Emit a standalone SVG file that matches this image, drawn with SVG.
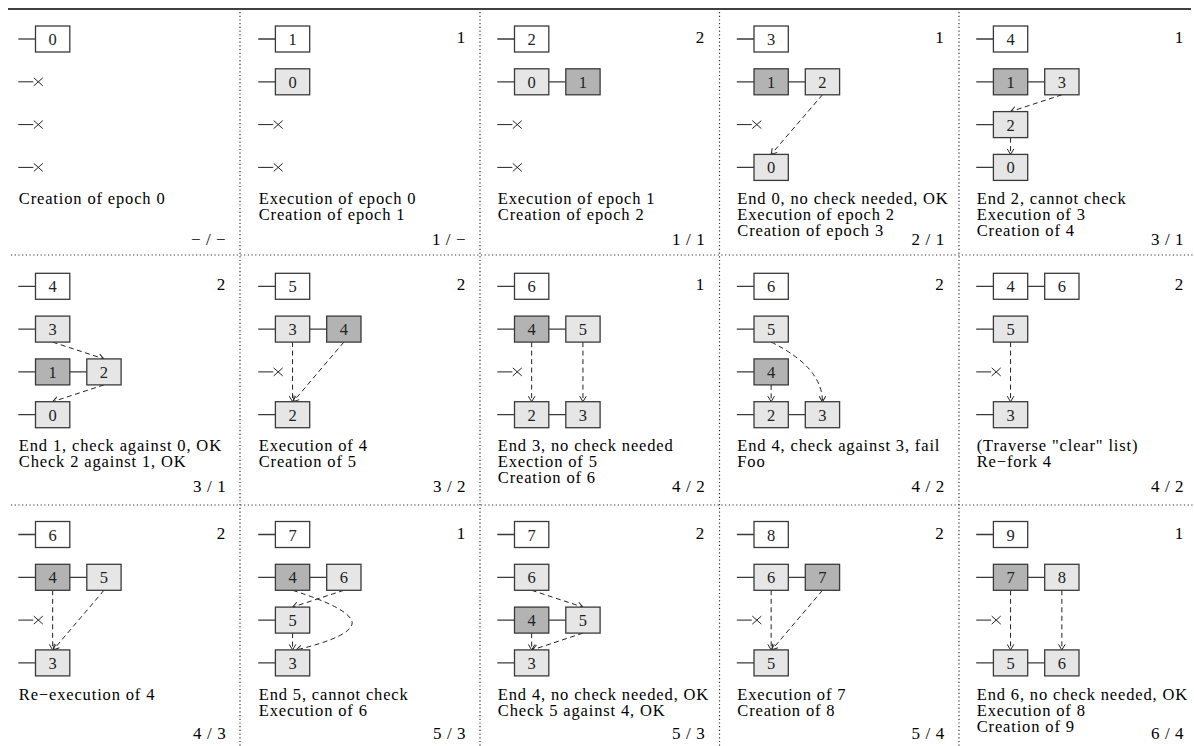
<svg xmlns="http://www.w3.org/2000/svg" width="1194" height="746" viewBox="0 0 1194 746">
<style>
.ln{stroke:#3a3a3a;stroke-width:1.3;fill:none}
.bx{stroke:#3a3a3a;stroke-width:1.3}
.w{fill:#ffffff}.l{fill:#e6e6e6}.d{fill:#b3b3b3}
.bt{font-family:"Liberation Serif","Times New Roman",serif;font-size:16.5px;text-anchor:middle;fill:#222}
.tx{font-family:"Liberation Serif","Times New Roman",serif;font-size:16.5px;letter-spacing:0.85px;fill:#000}
.num{font-family:"Liberation Serif","Times New Roman",serif;font-size:17px;text-anchor:end;fill:#000}
.cnt{font-family:"Liberation Serif","Times New Roman",serif;font-size:17px;letter-spacing:0.6px;text-anchor:end;fill:#000}
.da{stroke:#222;stroke-width:1;stroke-dasharray:5 3.5;fill:none;marker-end:url(#ah)}
.x{stroke:#222;stroke-width:1;fill:none}
.sep{stroke:#333;stroke-width:1.2;stroke-dasharray:1.2 2.5;fill:none}
</style>
<defs>
<marker id="ah" viewBox="-7 -5 8 10" refX="0" refY="0" markerWidth="8" markerHeight="10" markerUnits="userSpaceOnUse" orient="auto"><path d="M-5.5,-3.3 L0,0 L-5.5,3.3" fill="none" stroke="#222" stroke-width="1"/></marker>
</defs>
<rect width="1194" height="746" fill="#fff"/>
<g id="frame">
<line x1="8" y1="9" x2="1191" y2="9" stroke="#000" stroke-width="1.7"/>
<line class="sep" x1="240" y1="12" x2="240" y2="746"/>
<line class="sep" x1="480" y1="12" x2="480" y2="746"/>
<line class="sep" x1="719.5" y1="12" x2="719.5" y2="746"/>
<line class="sep" x1="959" y1="12" x2="959" y2="746"/>
<line class="sep" x1="11" y1="255" x2="1194" y2="255"/>
<line class="sep" x1="11" y1="505" x2="1194" y2="505"/>
</g>

<!-- Panel 0,0 -->
<g id="panel-00" transform="translate(18.3,39)">
<g id="p00-connectors">
<path class="ln" d="M0,0H17.2"/>
<path class="x" d="M0,42.8H15M15.5,38.8L24.5,46.8M15.5,46.8L24.5,38.8"/>
<path class="x" d="M0,85.6H15M15.5,81.6L24.5,89.6M15.5,89.6L24.5,81.6"/>
<path class="x" d="M0,128.4H15M15.5,124.4L24.5,132.4M15.5,132.4L24.5,124.4"/>
</g>
<g id="p00-e0"><rect class="bx w" x="17.2" y="-13" width="34.3" height="26"/><text class="bt" x="34.35" y="6">0</text></g>
<text class="tx" x="0.5" y="165">Creation of epoch 0</text>
<text class="cnt" x="208" y="206">− / −</text>
</g>

<!-- Panel 0,1 -->
<g id="panel-01" transform="translate(258.2,39)">
<g id="p01-connectors">
<path class="ln" d="M0,0H17.2M0,42.8H17.2"/>
<path class="x" d="M0,85.6H15M15.5,81.6L24.5,89.6M15.5,89.6L24.5,81.6"/>
<path class="x" d="M0,128.4H15M15.5,124.4L24.5,132.4M15.5,132.4L24.5,124.4"/>
</g>
<g id="p01-e1"><rect class="bx w" x="17.2" y="-13" width="34.3" height="26"/><text class="bt" x="34.35" y="6">1</text></g>
<g id="p01-e0"><rect class="bx l" x="17.2" y="29.8" width="34.3" height="26"/><text class="bt" x="34.35" y="48.8">0</text></g>
<text class="num" x="207" y="4">1</text>
<text class="tx" x="0.5" y="165">Execution of epoch 0</text>
<text class="tx" x="0.5" y="181">Creation of epoch 1</text>
<text class="cnt" x="208" y="206">1 / −</text>
</g>

<!-- Panel 0,2 -->
<g id="panel-02" transform="translate(497.3,39)">
<g id="p02-connectors">
<path class="ln" d="M0,0H17.2M0,42.8H17.2M51.5,42.8H68.5"/>
<path class="x" d="M0,85.6H15M15.5,81.6L24.5,89.6M15.5,89.6L24.5,81.6"/>
<path class="x" d="M0,128.4H15M15.5,124.4L24.5,132.4M15.5,132.4L24.5,124.4"/>
</g>
<g id="p02-e2"><rect class="bx w" x="17.2" y="-13" width="34.3" height="26"/><text class="bt" x="34.35" y="6">2</text></g>
<g id="p02-e0"><rect class="bx l" x="17.2" y="29.8" width="34.3" height="26"/><text class="bt" x="34.35" y="48.8">0</text></g>
<g id="p02-e1"><rect class="bx d" x="68.5" y="29.8" width="34.3" height="26"/><text class="bt" x="85.65" y="48.8">1</text></g>
<text class="num" x="207" y="4">2</text>
<text class="tx" x="0.5" y="165">Execution of epoch 1</text>
<text class="tx" x="0.5" y="181">Creation of epoch 2</text>
<text class="cnt" x="208" y="206">1 / 1</text>
</g>

<!-- Panel 0,3 -->
<g id="panel-03" transform="translate(736.8,39)">
<g id="p03-connectors">
<path class="ln" d="M0,0H17.2M0,42.8H17.2M51.5,42.8H68.5M0,128.4H17.2"/>
<path class="x" d="M0,85.6H15M15.5,81.6L24.5,89.6M15.5,89.6L24.5,81.6"/>
<path class="da" d="M85.65,55.8L34.35,115.4"/>
</g>
<g id="p03-e3"><rect class="bx w" x="17.2" y="-13" width="34.3" height="26"/><text class="bt" x="34.35" y="6">3</text></g>
<g id="p03-e1"><rect class="bx d" x="17.2" y="29.8" width="34.3" height="26"/><text class="bt" x="34.35" y="48.8">1</text></g>
<g id="p03-e2"><rect class="bx l" x="68.5" y="29.8" width="34.3" height="26"/><text class="bt" x="85.65" y="48.8">2</text></g>
<g id="p03-e0"><rect class="bx l" x="17.2" y="115.4" width="34.3" height="26"/><text class="bt" x="34.35" y="134.4">0</text></g>
<text class="num" x="207" y="4">1</text>
<text class="tx" x="0.5" y="165">End 0, no check needed, OK</text>
<text class="tx" x="0.5" y="181">Execution of epoch 2</text>
<text class="tx" x="0.5" y="197">Creation of epoch 3</text>
<text class="cnt" x="208" y="206">2 / 1</text>
</g>

<!-- Panel 0,4 -->
<g id="panel-04" transform="translate(976.2,39)">
<g id="p04-connectors">
<path class="ln" d="M0,0H17.2M0,42.8H17.2M51.5,42.8H68.5M0,85.6H17.2M0,128.4H17.2"/>
<path class="da" d="M85.65,55.8L34.35,72.6"/>
<path class="da" d="M34.35,98.6L34.35,115.4"/>
</g>
<g id="p04-e4"><rect class="bx w" x="17.2" y="-13" width="34.3" height="26"/><text class="bt" x="34.35" y="6">4</text></g>
<g id="p04-e1"><rect class="bx d" x="17.2" y="29.8" width="34.3" height="26"/><text class="bt" x="34.35" y="48.8">1</text></g>
<g id="p04-e3"><rect class="bx l" x="68.5" y="29.8" width="34.3" height="26"/><text class="bt" x="85.65" y="48.8">3</text></g>
<g id="p04-e2"><rect class="bx l" x="17.2" y="72.6" width="34.3" height="26"/><text class="bt" x="34.35" y="91.6">2</text></g>
<g id="p04-e0"><rect class="bx l" x="17.2" y="115.4" width="34.3" height="26"/><text class="bt" x="34.35" y="134.4">0</text></g>
<text class="num" x="207" y="4">1</text>
<text class="tx" x="0.5" y="165">End 2, cannot check</text>
<text class="tx" x="0.5" y="181">Execution of 3</text>
<text class="tx" x="0.5" y="197">Creation of 4</text>
<text class="cnt" x="208" y="206">3 / 1</text>
</g>

<!-- Panel 1,0 -->
<g id="panel-10" transform="translate(18.3,286.3)">
<g id="p10-connectors">
<path class="ln" d="M0,0H17.2M0,42.8H17.2M0,85.6H17.2M51.5,85.6H68.5M0,128.4H17.2"/>
<path class="da" d="M34.35,55.8L85.65,72.6"/>
<path class="da" d="M85.65,98.6L34.35,115.4"/>
</g>
<g id="p10-e4"><rect class="bx w" x="17.2" y="-13" width="34.3" height="26"/><text class="bt" x="34.35" y="6">4</text></g>
<g id="p10-e3"><rect class="bx l" x="17.2" y="29.8" width="34.3" height="26"/><text class="bt" x="34.35" y="48.8">3</text></g>
<g id="p10-e1"><rect class="bx d" x="17.2" y="72.6" width="34.3" height="26"/><text class="bt" x="34.35" y="91.6">1</text></g>
<g id="p10-e2"><rect class="bx l" x="68.5" y="72.6" width="34.3" height="26"/><text class="bt" x="85.65" y="91.6">2</text></g>
<g id="p10-e0"><rect class="bx l" x="17.2" y="115.4" width="34.3" height="26"/><text class="bt" x="34.35" y="134.4">0</text></g>
<text class="num" x="207" y="4">2</text>
<text class="tx" x="0.5" y="165">End 1, check against 0, OK</text>
<text class="tx" x="0.5" y="181">Check 2 against 1, OK</text>
<text class="cnt" x="208" y="206">3 / 1</text>
</g>

<!-- Panel 1,1 -->
<g id="panel-11" transform="translate(258.2,286.3)">
<g id="p11-connectors">
<path class="ln" d="M0,0H17.2M0,42.8H17.2M51.5,42.8H68.5M0,128.4H17.2"/>
<path class="x" d="M0,85.6H15M15.5,81.6L24.5,89.6M15.5,89.6L24.5,81.6"/>
<path class="da" d="M34.35,55.8L34.35,115.4"/>
<path class="da" d="M85.65,55.8L35,115.4"/>
</g>
<g id="p11-e5"><rect class="bx w" x="17.2" y="-13" width="34.3" height="26"/><text class="bt" x="34.35" y="6">5</text></g>
<g id="p11-e3"><rect class="bx l" x="17.2" y="29.8" width="34.3" height="26"/><text class="bt" x="34.35" y="48.8">3</text></g>
<g id="p11-e4"><rect class="bx d" x="68.5" y="29.8" width="34.3" height="26"/><text class="bt" x="85.65" y="48.8">4</text></g>
<g id="p11-e2"><rect class="bx l" x="17.2" y="115.4" width="34.3" height="26"/><text class="bt" x="34.35" y="134.4">2</text></g>
<text class="num" x="207" y="4">2</text>
<text class="tx" x="0.5" y="165">Execution of 4</text>
<text class="tx" x="0.5" y="181">Creation of 5</text>
<text class="cnt" x="208" y="206">3 / 2</text>
</g>

<!-- Panel 1,2 -->
<g id="panel-12" transform="translate(497.3,286.3)">
<g id="p12-connectors">
<path class="ln" d="M0,0H17.2M0,42.8H17.2M51.5,42.8H68.5M0,128.4H17.2M51.5,128.4H68.5"/>
<path class="x" d="M0,85.6H15M15.5,81.6L24.5,89.6M15.5,89.6L24.5,81.6"/>
<path class="da" d="M34.35,55.8L34.35,115.4"/>
<path class="da" d="M85.65,55.8L85.65,115.4"/>
</g>
<g id="p12-e6"><rect class="bx w" x="17.2" y="-13" width="34.3" height="26"/><text class="bt" x="34.35" y="6">6</text></g>
<g id="p12-e4"><rect class="bx d" x="17.2" y="29.8" width="34.3" height="26"/><text class="bt" x="34.35" y="48.8">4</text></g>
<g id="p12-e5"><rect class="bx l" x="68.5" y="29.8" width="34.3" height="26"/><text class="bt" x="85.65" y="48.8">5</text></g>
<g id="p12-e2"><rect class="bx l" x="17.2" y="115.4" width="34.3" height="26"/><text class="bt" x="34.35" y="134.4">2</text></g>
<g id="p12-e3"><rect class="bx l" x="68.5" y="115.4" width="34.3" height="26"/><text class="bt" x="85.65" y="134.4">3</text></g>
<text class="num" x="207" y="4">1</text>
<text class="tx" x="0.5" y="165">End 3, no check needed</text>
<text class="tx" x="0.5" y="181">Exection of 5</text>
<text class="tx" x="0.5" y="197">Creation of 6</text>
<text class="cnt" x="208" y="206">4 / 2</text>
</g>

<!-- Panel 1,3 -->
<g id="panel-13" transform="translate(736.8,286.3)">
<g id="p13-connectors">
<path class="ln" d="M0,0H17.2M0,42.8H17.2M0,85.6H17.2M0,128.4H17.2M51.5,128.4H68.5"/>
<path class="da" d="M34.35,98.6L34.35,115.4"/>
<path class="da" d="M34.35,55.8Q85.65,81 85.65,115.4"/>
</g>
<g id="p13-e6"><rect class="bx w" x="17.2" y="-13" width="34.3" height="26"/><text class="bt" x="34.35" y="6">6</text></g>
<g id="p13-e5"><rect class="bx l" x="17.2" y="29.8" width="34.3" height="26"/><text class="bt" x="34.35" y="48.8">5</text></g>
<g id="p13-e4"><rect class="bx d" x="17.2" y="72.6" width="34.3" height="26"/><text class="bt" x="34.35" y="91.6">4</text></g>
<g id="p13-e2"><rect class="bx l" x="17.2" y="115.4" width="34.3" height="26"/><text class="bt" x="34.35" y="134.4">2</text></g>
<g id="p13-e3"><rect class="bx l" x="68.5" y="115.4" width="34.3" height="26"/><text class="bt" x="85.65" y="134.4">3</text></g>
<text class="num" x="207" y="4">2</text>
<text class="tx" x="0.5" y="165">End 4, check against 3, fail</text>
<text class="tx" x="0.5" y="181">Foo</text>
<text class="cnt" x="208" y="206">4 / 2</text>
</g>

<!-- Panel 1,4 -->
<g id="panel-14" transform="translate(976.2,286.3)">
<g id="p14-connectors">
<path class="ln" d="M0,0H17.2M51.5,0H68.5M0,42.8H17.2M0,128.4H17.2"/>
<path class="x" d="M0,85.6H15M15.5,81.6L24.5,89.6M15.5,89.6L24.5,81.6"/>
<path class="da" d="M34.35,55.8L34.35,115.4"/>
</g>
<g id="p14-e4"><rect class="bx w" x="17.2" y="-13" width="34.3" height="26"/><text class="bt" x="34.35" y="6">4</text></g>
<g id="p14-e6"><rect class="bx w" x="68.5" y="-13" width="34.3" height="26"/><text class="bt" x="85.65" y="6">6</text></g>
<g id="p14-e5"><rect class="bx l" x="17.2" y="29.8" width="34.3" height="26"/><text class="bt" x="34.35" y="48.8">5</text></g>
<g id="p14-e3"><rect class="bx l" x="17.2" y="115.4" width="34.3" height="26"/><text class="bt" x="34.35" y="134.4">3</text></g>
<text class="num" x="207" y="4">2</text>
<text class="tx" x="0.5" y="165">(Traverse "clear" list)</text>
<text class="tx" x="0.5" y="181">Re−fork 4</text>
<text class="cnt" x="208" y="206">4 / 2</text>
</g>

<!-- Panel 2,0 -->
<g id="panel-20" transform="translate(18.3,534.5)">
<g id="p20-connectors">
<path class="ln" d="M0,0H17.2M0,42.8H17.2M51.5,42.8H68.5M0,128.4H17.2"/>
<path class="x" d="M0,85.6H15M15.5,81.6L24.5,89.6M15.5,89.6L24.5,81.6"/>
<path class="da" d="M34.35,55.8L34.35,115.4"/>
<path class="da" d="M85.65,55.8L35,115.4"/>
</g>
<g id="p20-e6"><rect class="bx w" x="17.2" y="-13" width="34.3" height="26"/><text class="bt" x="34.35" y="6">6</text></g>
<g id="p20-e4"><rect class="bx d" x="17.2" y="29.8" width="34.3" height="26"/><text class="bt" x="34.35" y="48.8">4</text></g>
<g id="p20-e5"><rect class="bx l" x="68.5" y="29.8" width="34.3" height="26"/><text class="bt" x="85.65" y="48.8">5</text></g>
<g id="p20-e3"><rect class="bx l" x="17.2" y="115.4" width="34.3" height="26"/><text class="bt" x="34.35" y="134.4">3</text></g>
<text class="num" x="207" y="4">2</text>
<text class="tx" x="0.5" y="165">Re−execution of 4</text>
<text class="cnt" x="208" y="204">4 / 3</text>
</g>

<!-- Panel 2,1 -->
<g id="panel-21" transform="translate(258.2,534.5)">
<g id="p21-connectors">
<path class="ln" d="M0,0H17.2M0,42.8H17.2M51.5,42.8H68.5M0,85.6H17.2M0,128.4H17.2"/>
<path class="da" d="M85.65,55.8L34.35,72.6"/>
<path class="da" d="M34.35,98.6L34.35,115.4"/>
<path class="da" d="M34.35,55.8Q92,74 94,88Q94,102 38,115.4"/>
</g>
<g id="p21-e7"><rect class="bx w" x="17.2" y="-13" width="34.3" height="26"/><text class="bt" x="34.35" y="6">7</text></g>
<g id="p21-e4"><rect class="bx d" x="17.2" y="29.8" width="34.3" height="26"/><text class="bt" x="34.35" y="48.8">4</text></g>
<g id="p21-e6"><rect class="bx l" x="68.5" y="29.8" width="34.3" height="26"/><text class="bt" x="85.65" y="48.8">6</text></g>
<g id="p21-e5"><rect class="bx l" x="17.2" y="72.6" width="34.3" height="26"/><text class="bt" x="34.35" y="91.6">5</text></g>
<g id="p21-e3"><rect class="bx l" x="17.2" y="115.4" width="34.3" height="26"/><text class="bt" x="34.35" y="134.4">3</text></g>
<text class="num" x="207" y="4">1</text>
<text class="tx" x="0.5" y="165">End 5, cannot check</text>
<text class="tx" x="0.5" y="181">Execution of 6</text>
<text class="cnt" x="208" y="204">5 / 3</text>
</g>

<!-- Panel 2,2 -->
<g id="panel-22" transform="translate(497.3,534.5)">
<g id="p22-connectors">
<path class="ln" d="M0,0H17.2M0,42.8H17.2M0,85.6H17.2M51.5,85.6H68.5M0,128.4H17.2"/>
<path class="da" d="M34.35,55.8L85.65,72.6"/>
<path class="da" d="M34.35,98.6L34.35,115.4"/>
<path class="da" d="M85.65,98.6L35,115.4"/>
</g>
<g id="p22-e7"><rect class="bx w" x="17.2" y="-13" width="34.3" height="26"/><text class="bt" x="34.35" y="6">7</text></g>
<g id="p22-e6"><rect class="bx l" x="17.2" y="29.8" width="34.3" height="26"/><text class="bt" x="34.35" y="48.8">6</text></g>
<g id="p22-e4"><rect class="bx d" x="17.2" y="72.6" width="34.3" height="26"/><text class="bt" x="34.35" y="91.6">4</text></g>
<g id="p22-e5"><rect class="bx l" x="68.5" y="72.6" width="34.3" height="26"/><text class="bt" x="85.65" y="91.6">5</text></g>
<g id="p22-e3"><rect class="bx l" x="17.2" y="115.4" width="34.3" height="26"/><text class="bt" x="34.35" y="134.4">3</text></g>
<text class="num" x="207" y="4">2</text>
<text class="tx" x="0.5" y="165">End 4, no check needed, OK</text>
<text class="tx" x="0.5" y="181">Check 5 against 4, OK</text>
<text class="cnt" x="208" y="204">5 / 3</text>
</g>

<!-- Panel 2,3 -->
<g id="panel-23" transform="translate(736.8,534.5)">
<g id="p23-connectors">
<path class="ln" d="M0,0H17.2M0,42.8H17.2M51.5,42.8H68.5M0,128.4H17.2"/>
<path class="x" d="M0,85.6H15M15.5,81.6L24.5,89.6M15.5,89.6L24.5,81.6"/>
<path class="da" d="M34.35,55.8L34.35,115.4"/>
<path class="da" d="M85.65,55.8L35,115.4"/>
</g>
<g id="p23-e8"><rect class="bx w" x="17.2" y="-13" width="34.3" height="26"/><text class="bt" x="34.35" y="6">8</text></g>
<g id="p23-e6"><rect class="bx l" x="17.2" y="29.8" width="34.3" height="26"/><text class="bt" x="34.35" y="48.8">6</text></g>
<g id="p23-e7"><rect class="bx d" x="68.5" y="29.8" width="34.3" height="26"/><text class="bt" x="85.65" y="48.8">7</text></g>
<g id="p23-e5"><rect class="bx l" x="17.2" y="115.4" width="34.3" height="26"/><text class="bt" x="34.35" y="134.4">5</text></g>
<text class="num" x="207" y="4">2</text>
<text class="tx" x="0.5" y="165">Execution of 7</text>
<text class="tx" x="0.5" y="181">Creation of 8</text>
<text class="cnt" x="208" y="204">5 / 4</text>
</g>

<!-- Panel 2,4 -->
<g id="panel-24" transform="translate(976.2,534.5)">
<g id="p24-connectors">
<path class="ln" d="M0,0H17.2M0,42.8H17.2M51.5,42.8H68.5M0,128.4H17.2M51.5,128.4H68.5"/>
<path class="x" d="M0,85.6H15M15.5,81.6L24.5,89.6M15.5,89.6L24.5,81.6"/>
<path class="da" d="M34.35,55.8L34.35,115.4"/>
<path class="da" d="M85.65,55.8L85.65,115.4"/>
</g>
<g id="p24-e9"><rect class="bx w" x="17.2" y="-13" width="34.3" height="26"/><text class="bt" x="34.35" y="6">9</text></g>
<g id="p24-e7"><rect class="bx d" x="17.2" y="29.8" width="34.3" height="26"/><text class="bt" x="34.35" y="48.8">7</text></g>
<g id="p24-e8"><rect class="bx l" x="68.5" y="29.8" width="34.3" height="26"/><text class="bt" x="85.65" y="48.8">8</text></g>
<g id="p24-e5"><rect class="bx l" x="17.2" y="115.4" width="34.3" height="26"/><text class="bt" x="34.35" y="134.4">5</text></g>
<g id="p24-e6"><rect class="bx l" x="68.5" y="115.4" width="34.3" height="26"/><text class="bt" x="85.65" y="134.4">6</text></g>
<text class="num" x="207" y="4">1</text>
<text class="tx" x="0.5" y="165">End 6, no check needed, OK</text>
<text class="tx" x="0.5" y="181">Execution of 8</text>
<text class="tx" x="0.5" y="197">Creation of 9</text>
<text class="cnt" x="208" y="204">6 / 4</text>
</g>
</svg>
